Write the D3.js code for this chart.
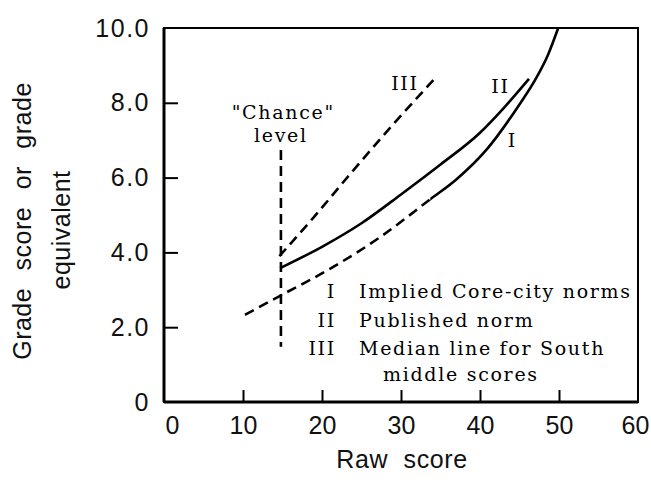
<!DOCTYPE html>
<html>
<head>
<meta charset="utf-8">
<script src="https://cdn.jsdelivr.net/npm/d3@7"></script>
<style>
  body { margin: 0; background: #fff; }
  svg { display: block; }
</style>
</head>
<body>
<div id="chart-area"></div>
<script>

// axis ticks
var xTicks = [0, 10, 20, 30, 40, 50, 60];
var yTicks = [0, 2, 4, 6, 8, 10];
var yTickLabels = ["0", "2.0", "4.0", "6.0", "8.0", "10.0"];

// curve I - implied core-city norms (dashed below raw score ~33.7, solid above)
var curveI = [[10.25, 2.33], [14.7, 2.84], [21.0, 3.56], [27.3, 4.40], [33.7, 5.42], [37.0, 5.95], [40.8, 6.74], [45.1, 7.99], [47.0, 8.62], [48.6, 9.28], [49.9, 10.0]];
var curveIBreak = 33.7;

// curve II - published norm
var curveII = [[14.7, 3.58], [20.0, 4.15], [25.0, 4.78], [30.0, 5.55], [35.0, 6.35], [40.0, 7.20], [43.0, 7.86], [46.2, 8.64]];

// curve III - median line for South middle scores
var curveIII = [[14.6, 3.9], [19.0, 4.95], [23.5, 6.08], [29.0, 7.42], [34.1, 8.61]];

// "chance" level
var chanceX = 14.8;
var chanceRange = [1.48, 6.74];

// legend
var legendNums = ["I", "II", "III"];
var legendText = ["Implied Core-city norms", "Published norm", "Median line for South"];
var legendExtra = "middle scores";

var width = 651, height = 490;
var margin = {top: 28, right: 13, bottom: 88, left: 164};

var svg = d3.select("#chart-area").append("svg")
    .attr("width", width)
    .attr("height", height);

var x = d3.scaleLinear().domain([0, 60]).range([margin.left, width - margin.right]);
var y = d3.scaleLinear().domain([0, 10]).range([height - margin.bottom, margin.top]);

var sans = "Liberation Sans, Arial, sans-serif";
var serif = "DejaVu Serif, serif";

// frame
svg.append("rect")
    .attr("x", x(0))
    .attr("y", y(10))
    .attr("width", x(60) - x(0))
    .attr("height", y(0) - y(10))
    .attr("fill", "none")
    .attr("stroke", "#000")
    .attr("stroke-width", 2);

// heavier left / bottom axis lines, ticks point inward
var yAxis = d3.axisLeft(y).tickValues(yTicks).tickSize(-14).tickFormat(function(d, i) { return yTickLabels[i]; });
var gy = svg.append("g").attr("transform", "translate(" + x(0) + ",0)").call(yAxis);
gy.select(".domain").attr("stroke-width", 3).attr("d", "M0," + y(0) + "V" + y(10));
gy.selectAll(".tick line").attr("stroke-width", 2);
gy.selectAll(".tick text")
    .attr("x", -14)
    .attr("font-family", sans)
    .attr("font-size", 25)
    .attr("letter-spacing", 1.5)
    .attr("fill", "#111");

var xAxis = d3.axisBottom(x).tickValues(xTicks).tickSize(-12).tickFormat(d3.format("d"));
var gx = svg.append("g").attr("transform", "translate(0," + y(0) + ")").call(xAxis);
gx.select(".domain").attr("stroke-width", 3).attr("d", "M" + x(0) + ",0H" + x(60));
gx.selectAll(".tick line").attr("stroke-width", 2);
gx.selectAll(".tick text")
    .attr("y", 14)
    .attr("font-family", sans)
    .attr("font-size", 25)
    .attr("fill", "#111")
    .attr("dx", function(d) { return d == 0 ? 8 : (d == 60 ? -3 : 0); });
// no tick mark at the frame corners
gx.selectAll(".tick line").filter(function(d) { return d == 0 || d == 60; }).remove();
gy.selectAll(".tick line").filter(function(d) { return d == 0 || d == 10; }).remove();

// axis titles
svg.append("text")
    .attr("x", (x(0) + x(60)) / 2 + 1)
    .attr("y", 468)
    .attr("text-anchor", "middle")
    .attr("font-family", sans)
    .attr("font-size", 25)
    .attr("letter-spacing", 0.6)
    .attr("word-spacing", 8)
    .attr("fill", "#111")
    .text("Raw score");

svg.append("text")
    .attr("transform", "translate(31,221) rotate(-90)")
    .attr("text-anchor", "middle")
    .attr("font-family", sans)
    .attr("font-size", 25)
    .attr("letter-spacing", 0.5)
    .attr("word-spacing", 10)
    .attr("fill", "#111")
    .text("Grade score or grade");

svg.append("text")
    .attr("transform", "translate(70,230) rotate(-90)")
    .attr("text-anchor", "middle")
    .attr("font-family", sans)
    .attr("font-size", 25)
    .attr("letter-spacing", 0.5)
    .attr("fill", "#111")
    .text("equivalent");

// curves
var line = d3.line()
    .x(function(d) { return x(d[0]); })
    .y(function(d) { return y(d[1]); })
    .curve(d3.curveMonotoneX);

// clip regions so curve I is one smooth path, dashed on the left part
var defs = svg.append("defs");
defs.append("clipPath").attr("id", "clip-left")
    .append("rect")
    .attr("x", 0).attr("y", 0)
    .attr("width", x(curveIBreak)).attr("height", height);
defs.append("clipPath").attr("id", "clip-right")
    .append("rect")
    .attr("x", x(curveIBreak)).attr("y", 0)
    .attr("width", width - x(curveIBreak)).attr("height", height);

function drawCurve(data, dashed, clip) {
    svg.append("path")
        .datum(data)
        .attr("d", line)
        .attr("fill", "none")
        .attr("stroke", "#000")
        .attr("stroke-width", 2.6)
        .attr("stroke-dasharray", dashed ? "10,6" : null)
        .attr("clip-path", clip ? "url(#" + clip + ")" : null);
}

drawCurve(curveI, true, "clip-left");
drawCurve(curveI, false, "clip-right");
drawCurve(curveII, false);
drawCurve(curveIII, true);

svg.append("line")
    .attr("x1", x(chanceX)).attr("x2", x(chanceX))
    .attr("y1", y(chanceRange[1])).attr("y2", y(chanceRange[0]))
    .attr("stroke", "#000")
    .attr("stroke-width", 2.6)
    .attr("stroke-dasharray", "10,6");

// curve labels
function label(txt, px, py, anchor) {
    svg.append("text")
        .attr("x", px)
        .attr("y", py)
        .attr("text-anchor", anchor || "middle")
        .attr("font-family", serif)
        .attr("font-size", 19)
        .attr("letter-spacing", 1.7)
        .attr("fill", "#000")
        .text(txt);
}

label("\"Chance\"", x(15.1), y(7.58));
label("level", x(14.8), y(6.95));
label("III", x(30.5), y(8.35));
label("II", x(42.6), y(8.25));
label("I", x(44.1), y(6.82));

// legend
legendNums.forEach(function(n, i) {
    label(n, 336, 298 + i * 28.5, "end");
    label(legendText[i], 359, 298 + i * 28.5, "start");
});
label(legendExtra, 383, 381, "start");

</script>
</body>
</html>
